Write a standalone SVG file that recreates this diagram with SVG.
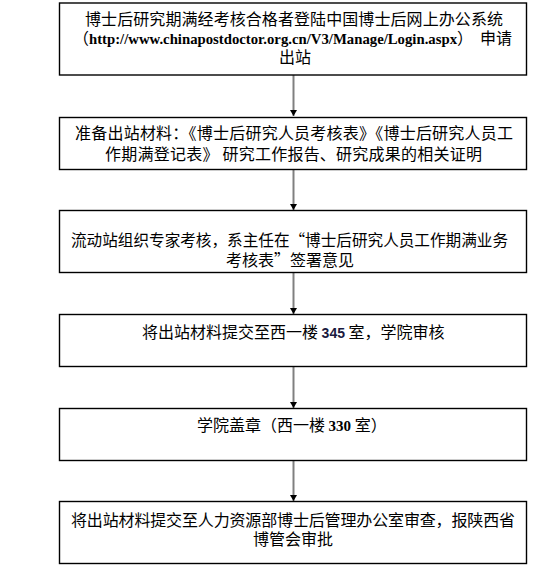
<svg xmlns="http://www.w3.org/2000/svg" width="552" height="585" viewBox="0 0 552 585">
<style>
.box{fill:#fff;stroke:#000;stroke-width:1.4}
.t{font-family:"Noto Sans CJK SC","Liberation Sans",sans-serif;font-size:16px;fill:#000}
.url{font-family:"Liberation Serif",serif;font-weight:bold;font-size:15px;fill:#000}
.nb{font-family:"Liberation Sans",sans-serif;font-weight:bold;font-size:14px;fill:#1a1a40}
.ns{font-family:"Liberation Serif",serif;font-weight:bold;font-size:15px;fill:#000}
.conn{stroke:#808080;stroke-width:2;fill:none}
</style>
<defs>
<marker id="ah" markerUnits="userSpaceOnUse" markerWidth="8" markerHeight="8" viewBox="0 0 8 8" refX="7" refY="4" orient="auto">
<path d="M1,0.5 L7,4 L1,7.5 Z" fill="#000"/>
</marker>
</defs>
<rect width="552" height="585" fill="#fff"/>
<g id="connectors">
<line class="conn" x1="293.5" y1="75" x2="293.5" y2="116" marker-end="url(#ah)"/>
<line class="conn" x1="293.5" y1="169" x2="293.5" y2="210" marker-end="url(#ah)"/>
<line class="conn" x1="293.5" y1="273" x2="293.5" y2="314" marker-end="url(#ah)"/>
<line class="conn" x1="293.5" y1="366" x2="293.5" y2="408" marker-end="url(#ah)"/>
<line class="conn" x1="293.5" y1="460" x2="293.5" y2="501" marker-end="url(#ah)"/>
</g>
<g id="n1">
<rect class="box" x="59.5" y="3" width="467" height="72"/>
<text class="t" x="85" y="25" textLength="418" lengthAdjust="spacing">博士后研究期满经考核合格者登陆中国博士后网上办公系统</text>
<text class="t" x="73" y="44">（</text>
<text class="url" x="89" y="44" textLength="368" lengthAdjust="spacingAndGlyphs">http://www.chinapostdoctor.org.cn/V3/Manage/Login.aspx</text>
<text class="t" x="457" y="44">）</text>
<text class="t" x="480" y="44">申请</text>
<text class="t" x="279" y="63">出站</text>
</g>
<g id="n2">
<rect class="box" x="59.5" y="117.5" width="467" height="52"/>
<text class="t" x="75" y="139" textLength="438" lengthAdjust="spacing">准备出站材料：《博士后研究人员考核表》《博士后研究人员工</text>
<text class="t" x="105" y="160" textLength="377" lengthAdjust="spacing">作期满登记表》 研究工作报告、研究成果的相关证明</text>
</g>
<g id="n3">
<rect class="box" x="59.5" y="210.5" width="467" height="62"/>
<text class="t" x="71" y="246" textLength="437" lengthAdjust="spacingAndGlyphs">流动站组织专家考核，系主任在“博士后研究人员工作期满业务</text>
<text class="t" x="226" y="266">考核表”签署意见</text>
</g>
<g id="n4">
<rect class="box" x="59.5" y="314.5" width="467" height="52"/>
<text class="t" x="142" y="338">将出站材料提交至西一楼 <tspan class="nb">345</tspan> 室，学院审核</text>
</g>
<g id="n5">
<rect class="box" x="59.5" y="408.5" width="467" height="52"/>
<text class="t" x="197" y="431">学院盖章（西一楼 <tspan class="ns">330</tspan> 室）</text>
</g>
<g id="n6">
<rect class="box" x="59.5" y="501.5" width="467" height="62"/>
<text class="t" x="71" y="526" textLength="444" lengthAdjust="spacing">将出站材料提交至人力资源部博士后管理办公室审查，报陕西省</text>
<text class="t" x="253" y="545">博管会审批</text>
</g>
</svg>
